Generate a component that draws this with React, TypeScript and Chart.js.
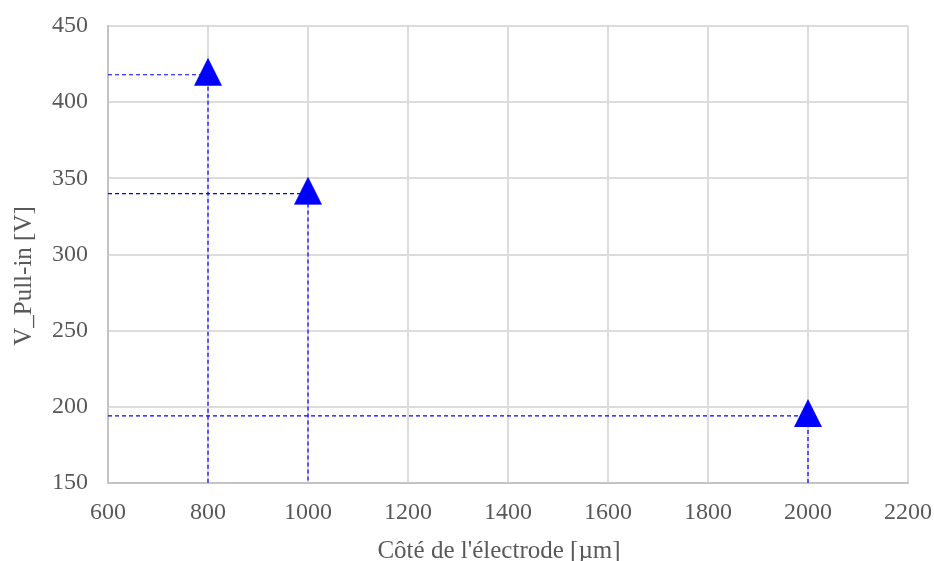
import React, { useEffect, useRef } from "react";
import { Chart, registerables } from "chart.js";

Chart.register(...registerables);

const electrodeSide = [800, 1000, 2000];
const pullInVoltage = [418, 340, 194];
const xTicks = [600, 800, 1000, 1200, 1400, 1600, 1800, 2000, 2200];
const yTicks = [150, 200, 250, 300, 350, 400, 450];
const xTitle = "Côté de l'électrode [µm]";
const yTitle = "V_Pull-in [V]";

const BLUE = "#0000ff";
const TEXT = "#595959";
const FONT = "'Liberation Serif', 'Times New Roman', serif";

function makeTriangle(): HTMLCanvasElement {
  const c = document.createElement("canvas");
  c.width = 28;
  c.height = 34;
  const ctx = c.getContext("2d")!;
  ctx.fillStyle = BLUE;
  ctx.beginPath();
  ctx.moveTo(14, 0);
  ctx.lineTo(28, 28);
  ctx.lineTo(0, 28);
  ctx.closePath();
  ctx.fill();
  return c;
}

function zeroPad(s: any) {
  s.paddingLeft = 0;
  s.paddingRight = 0;
  s.paddingTop = 0;
  s.paddingBottom = 0;
}

const axisTitles = {
  id: "axisTitles",
  afterDraw(chart: any) {
    const { ctx, chartArea } = chart;
    ctx.save();
    ctx.fillStyle = TEXT;
    ctx.font = `25px ${FONT}`;
    // x title
    ctx.textAlign = "center";
    ctx.textBaseline = "alphabetic";
    ctx.fillText(xTitle, chartArea.left + 391, chartArea.bottom + 75);
    // y title
    ctx.translate(24, chartArea.top + 250);
    ctx.rotate(-Math.PI / 2);
    ctx.textBaseline = "middle";
    ctx.fillText(yTitle, 0, 0);
    ctx.restore();
  },
};

export default function App() {
  const ref = useRef<HTMLCanvasElement>(null);
  useEffect(() => {
    const tri = makeTriangle();
    const xMin = xTicks[0];
    const yMin = yTicks[0];
    const dropLines = electrodeSide.map((x, i) => ({
      type: "scatter" as const,
      data: [
        { x: xMin, y: pullInVoltage[i] },
        { x, y: pullInVoltage[i] },
        { x, y: yMin },
      ],
      showLine: true,
      borderColor: BLUE,
      borderWidth: 1.2,
      borderDash: [4, 3],
      pointRadius: 0,
      order: 2,
    }));
    const chart = new Chart(ref.current!, {
      type: "scatter",
      data: {
        datasets: [
          {
            data: electrodeSide.map((x, i) => ({ x, y: pullInVoltage[i] })),
            pointStyle: tri as any,
            backgroundColor: BLUE,
            borderColor: BLUE,
            order: 0,
          } as any,
          ...dropLines,
        ],
      },
      plugins: [axisTitles],
      options: {
        animation: false,
        responsive: false,
        events: [],
        layout: { padding: { left: 0, right: 26, top: 26, bottom: 0 } },
        plugins: { legend: { display: false }, tooltip: { enabled: false } },
        scales: {
          x: {
            type: "linear",
            min: xTicks[0],
            max: xTicks[xTicks.length - 1],
            afterBuildTicks: (s: any) => {
              s.ticks = xTicks.map((v) => ({ value: v }));
            },
            afterFit: (s: any) => {
              s.height = 78;
              zeroPad(s);
            },
            grid: { color: "#dcdcdc", drawTicks: false, lineWidth: 2 },
            border: { color: "#c4c4c4", width: 2 },
            ticks: {
              padding: 15,
              color: TEXT,
              font: { family: FONT, size: 24 },
              maxRotation: 0,
              callback: (v: any) => String(v),
            },
            title: { display: false },
          },
          y: {
            type: "linear",
            min: yTicks[0],
            max: yTicks[yTicks.length - 1],
            afterBuildTicks: (s: any) => {
              s.ticks = yTicks.map((v) => ({ value: v }));
            },
            afterFit: (s: any) => {
              s.width = 108;
              zeroPad(s);
            },
            grid: { color: "#dcdcdc", drawTicks: false, lineWidth: 2 },
            border: { color: "#c4c4c4", width: 2 },
            ticks: {
              padding: 20,
              color: TEXT,
              font: { family: FONT, size: 24 },
              callback: (v: any) => String(v),
            },
            title: { display: false },
          },
        },
      },
    });
    return () => chart.destroy();
  }, []);
  return (
    <div style={{ position: "fixed", left: 0, top: 0, width: 934, height: 561, background: "#fff" }}>
      <canvas ref={ref} width={934} height={561} style={{ width: 934, height: 561 }} />
    </div>
  );
}
